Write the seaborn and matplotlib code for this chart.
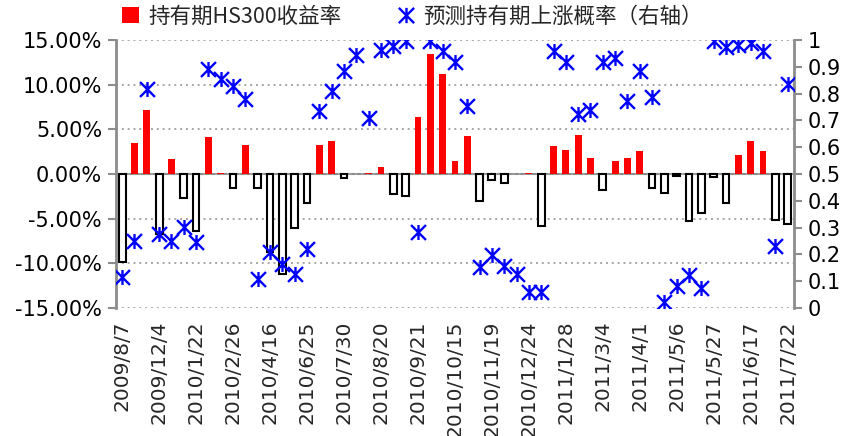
import numpy as np
import pandas as pd
import matplotlib
matplotlib.use("Agg")
import matplotlib.pyplot as plt
from matplotlib.path import Path
from matplotlib.patches import Patch
from matplotlib.lines import Line2D
from matplotlib.ticker import FixedLocator, FuncFormatter
import seaborn as sns

# Holding-period HS300 return (%) for each forecast window
hs300_return = [
    -9.9, 3.5, 7.2, -6.7, 1.7, -2.7, -6.4, 4.1, 0.1, -1.6,
    3.2, -1.6, -8.7, -11.2, -6.0, -3.2, 3.3, 3.7, -0.45, 0.05,
    0.15, 0.75, -2.2, -2.5, 6.4, 13.5, 11.2, 1.5, 4.3, -3.05,
    -0.65, -1.0, 0.05, 0.15, -5.85, 3.15, 2.7, 4.4, 1.85, -1.8,
    1.5, 1.85, 2.6, -1.55, -2.1, -0.25, -5.3, -4.35, -0.3, -3.25,
    2.15, 3.75, 2.6, -5.1, -5.6,
]

# Predicted probability of a rise over the holding period (right axis)
up_probability = [
    0.114, 0.251, 0.817, 0.276, 0.249, 0.301, 0.245, 0.892, 0.854, 0.830,
    0.780, 0.108, 0.208, 0.164, 0.127, 0.220, 0.736, 0.811, 0.883, 0.945,
    0.711, 0.964, 0.979, 0.995, 0.282, 0.995, 0.958, 0.919, 0.755, 0.152,
    0.198, 0.158, 0.127, 0.058, 0.058, 0.958, 0.919, 0.724, 0.739, 0.920,
    0.935, 0.774, 0.886, 0.786, 0.021, 0.083, 0.124, 0.075, 0.998, 0.976,
    0.983, 0.991, 0.958, 0.233, 0.836,
]

# Dates labelled on the category axis (every third window)
tick_dates = [
    "2009/8/7", "2009/12/4", "2010/1/22", "2010/2/26", "2010/4/16",
    "2010/6/25", "2010/7/30", "2010/8/20", "2010/9/21", "2010/10/15",
    "2010/11/19", "2010/12/24", "2011/1/28", "2011/3/4", "2011/4/1",
    "2011/5/6", "2011/5/27", "2011/6/17", "2011/7/22",
]
tick_step = 3

legend_labels = ["持有期HS300收益率", "预测持有期上涨概率（右轴）"]

RED = "#FF0000"
BLUE = "#0000FF"
GRAY = "#8C8C8C"

n = len(hs300_return)
df = pd.DataFrame({
    "idx": np.arange(n),
    "ret": np.array(hs300_return) / 100.0,
    "prob": up_probability,
})
df["sign"] = np.where(df["ret"] >= 0, "up", "down")

sns.set_theme(style="white")
plt.rcParams["font.family"] = ["DejaVu Sans"]

fig = plt.figure(figsize=(8.61, 4.36), dpi=100)
ax = fig.add_axes([0.1347, 0.2936, 0.922 - 0.1347, 0.908 - 0.2936])

sns.barplot(
    data=df, x="idx", y="ret", hue="sign",
    palette={"up": RED, "down": "white"},
    dodge=False, width=0.55, saturation=1, legend=False,
    linewidth=0, ax=ax,
)
for p in ax.patches:
    if p.get_height() < 0:
        p.set_facecolor("white")
        p.set_edgecolor("black")
        p.set_linewidth(1.5)

ax.set_xlim(-0.5, n - 0.5)
ax.set_ylim(-0.15, 0.15)
ax.set_yticks(np.arange(-0.15, 0.1501, 0.05))
ax.yaxis.set_major_formatter(FuncFormatter(lambda v, _: f"{v * 100:.2f}%"))
ax.set_axisbelow(True)
ax.yaxis.grid(True, color="#A6A6A6", linestyle=(0, (1, 2)), linewidth=1.4)
ax.xaxis.grid(False)

# zero line carries the category boundary ticks
for s in ["top", "right"]:
    ax.spines[s].set_visible(False)
ax.spines["bottom"].set_position(("data", 0))
ax.spines["bottom"].set_color(GRAY)
ax.spines["bottom"].set_linewidth(1.5)
ax.spines["bottom"].set_zorder(0.5)
ax.spines["left"].set_color(GRAY)
ax.spines["left"].set_linewidth(2)
ax.xaxis.set_major_locator(FixedLocator(np.arange(-0.5, n, 1.0)))
ax.tick_params(axis="x", direction="out", length=5, width=1.5, color=GRAY,
               labelbottom=False)
ax.tick_params(axis="y", direction="out", length=6, width=1.5, color=GRAY,
               labelsize=15, labelcolor="black", pad=4, left=True)
ax.set_xlabel("")
ax.set_ylabel("")

# date labels along the bottom of the plot
sec = ax.secondary_xaxis("bottom")
sec.set_xticks(np.arange(0, n, tick_step), labels=tick_dates)
sec.tick_params(length=0, pad=9, labelsize=14.5, labelrotation=90)
sec.spines["bottom"].set_visible(False)

# probability series on the right axis
ax2 = ax.twinx()
star = Path(
    [(0, -1), (0, 1), (-1, -1), (1, 1), (-1, 1), (1, -1)],
    [Path.MOVETO, Path.LINETO] * 3,
)
sns.scatterplot(
    data=df, x="idx", y="prob", marker=star, s=115,
    color=BLUE, edgecolor=BLUE, linewidth=1.7, ax=ax2, zorder=5,
)
ax2.set_ylim(0, 1)
ax2.set_yticks(np.arange(0, 1.001, 0.1))
ax2.yaxis.set_major_formatter(FuncFormatter(lambda v, _: f"{v:.1f}".rstrip("0").rstrip(".") if v not in (0, 1) else f"{int(round(v))}"))
ax2.set_ylabel("")
ax2.set_xlabel("")
for s in ["top", "left", "bottom"]:
    ax2.spines[s].set_visible(False)
ax2.spines["right"].set_color(GRAY)
ax2.spines["right"].set_linewidth(2)
ax2.tick_params(axis="y", direction="out", length=6, width=1.5, color=GRAY,
                labelsize=15, labelcolor="black", pad=4, right=True)
ax2.tick_params(axis="x", length=0, labelbottom=False)

handles = [
    Patch(facecolor=RED, edgecolor="none"),
    Line2D([], [], marker=star, linestyle="none", color=BLUE,
           markersize=11, markeredgewidth=1.7),
]
fig.legend(
    handles, legend_labels, loc="center left", bbox_to_anchor=(0.132, 0.962),
    ncol=2, frameon=False, columnspacing=2.6, handlelength=0.8,
    handletextpad=0.4, borderaxespad=0,
    prop={"family": ["Noto Sans CJK SC", "DejaVu Sans"], "size": 15.5},
)

fig.savefig("out.png", dpi=100)
